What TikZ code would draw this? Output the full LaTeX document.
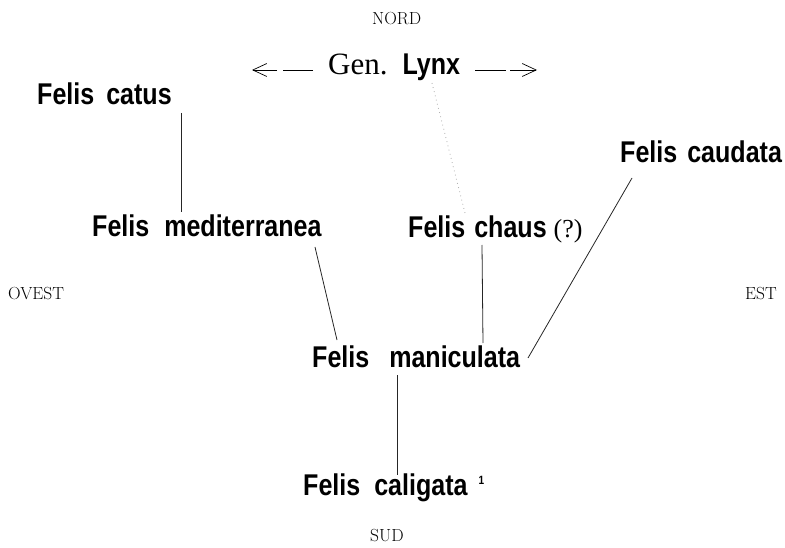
\documentclass[tikz,border=0pt]{standalone}
\usepackage{fontspec}
\newfontfamily\fsans{Liberation Sans}[FakeStretch=0.835]
\newfontfamily\fserif{Liberation Serif}
\usetikzlibrary{arrows.meta}
\tikzset{
  lbl/.style={inner sep=0pt, anchor=base west, font=\fsans\bfseries\fontsize{30}{36}\selectfont},
  card/.style={inner sep=0pt, anchor=base west, font=\fontsize{17.5}{20}\selectfont},
  link/.style={line width=0.8pt, black!85},
  dir/.style={line width=0.7pt, -{Straight Barb[length=14pt,width=13pt,line width=0.7pt]}},
  dotlink/.style={line width=0.9pt, black!30, dash pattern=on 0.8pt off 3.5pt}
}
\begin{document}
\begin{tikzpicture}[x=1pt,y=-1pt]
\useasboundingbox (0,0) rectangle (785,548);
% cardinal points
\node[card] (nord) at (372,25) {NORD};
\node[card] (ovest) at (8,300) {OVEST};
\node[card] (est) at (745,300) {EST};
\node[card] (sud) at (370,541) {SUD};
% species
\node[inner sep=0pt, anchor=base west] (lynx) at (328,75)
  {{\fserif\fontsize{31}{36}\selectfont Gen.}\hspace{15pt}{\fsans\bfseries\fontsize{30}{36}\selectfont Lynx}};
\node[lbl] (catus) at (37,105) {Felis\hspace{12pt}catus};
\node[lbl] (med) at (92,237) {Felis\hspace{15pt}mediterranea};
\node[lbl] (chaus) at (408,238) {Felis\hspace{9pt}chaus\hspace{7pt}{\fserif\mdseries\fontsize{26}{30}\selectfont(?)}};
\node[lbl] (caud) at (620,163) {Felis\hspace{10pt}caudata};
\node[lbl] (mani) at (312,367) {Felis\hspace{20pt}maniculata};
\node[lbl] (cali) at (303,495) {Felis\hspace{14pt}caligata\hspace{11pt}\raisebox{11pt}{\fontsize{12}{12}\selectfont 1}};
% arrows from Gen. Lynx
\coordinate (west) at (252,70);
\coordinate (east) at (537,70);
\draw[dir, dash pattern=on 30pt off 6pt on 200pt] ([xshift=-15pt,yshift=5pt]lynx.base west) -- (west);
\draw[dir, dash pattern=on 31pt off 4pt on 200pt] ([xshift=147pt,yshift=5pt]lynx.base west) -- (east);
% connectors
\draw[link] ([xshift=144pt,yshift=-8pt]catus.base west) -- ([xshift=89pt,yshift=25pt]med.base west);
\draw[link] ([xshift=223pt,yshift=-10pt]med.base west) -- ([xshift=25pt,yshift=27pt]mani.base west);
\draw[link] ([xshift=74pt,yshift=-7pt]chaus.base west) -- ([xshift=171pt,yshift=24pt]mani.base west);
\draw[link] ([xshift=12pt,yshift=-15pt]caud.base west) -- ([xshift=216pt,yshift=9pt]mani.base west);
\draw[link] ([xshift=85pt,yshift=-8pt]mani.base west) -- ([xshift=94pt,yshift=20pt]cali.base west);
\draw[dotlink] ([xshift=104pt,yshift=-8pt]lynx.base west) -- ([xshift=57pt,yshift=25pt]chaus.base west);
\end{tikzpicture}
\end{document}
